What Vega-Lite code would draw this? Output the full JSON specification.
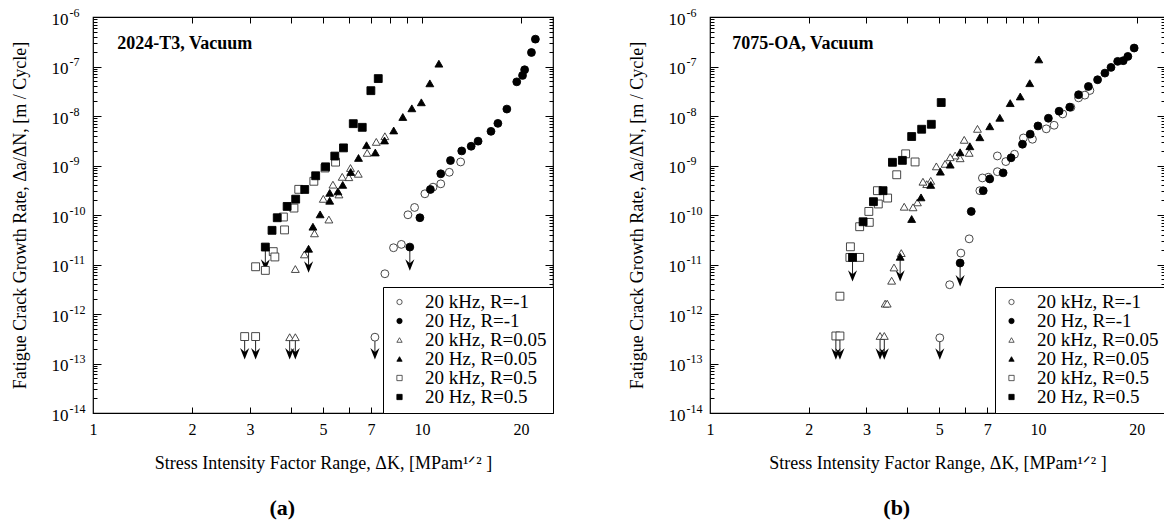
{
  "$schema": "https://vega.github.io/schema/vega-lite/v6.json",
  "padding": {"left": 10, "top": 5, "right": 0, "bottom": 0},
  "spacing": 72,
  "resolve": {"legend": {"shape": "independent", "fill": "independent", "stroke": "independent"}},
  "config": {
    "font": "Liberation Serif",
    "view": {"stroke": "black", "strokeWidth": 1.2},
    "axis": {"grid": false, "domain": false, "labelFont": "Liberation Serif", "titleFont": "Liberation Serif", "labelColor": "black", "titleColor": "black", "tickColor": "black", "titleFontWeight": "normal", "labelFontSize": 16, "titleFontSize": 18, "labelOverlap": false, "labelFlush": false},
    "legend": {"title": null, "orient": "bottom-right", "offset": 0, "fillColor": "white", "strokeColor": "black", "padding": 6, "symbolSize": 28, "symbolStrokeWidth": 0.8, "labelFontSize": 19, "labelFont": "Liberation Serif", "labelColor": "black", "rowPadding": 0, "clipHeight": 18, "symbolOffset": 1, "labelOffset": 16, "labelLimit": 300},
    "title": {"font": "Liberation Serif", "color": "black"}
  },
  "datasets": {
    "a": [
      {"K": 13.1, "da": 1.18e-9, "series": "20 kHz, R=-1"},
      {"K": 12.1, "da": 7.3e-10, "series": "20 kHz, R=-1"},
      {"K": 11.4, "da": 4.26e-10, "series": "20 kHz, R=-1"},
      {"K": 10.8, "da": 3.65e-10, "series": "20 kHz, R=-1"},
      {"K": 10.2, "da": 2.68e-10, "series": "20 kHz, R=-1"},
      {"K": 9.49, "da": 1.42e-10, "series": "20 kHz, R=-1"},
      {"K": 9.06, "da": 1.01e-10, "series": "20 kHz, R=-1"},
      {"K": 8.65, "da": 2.55e-11, "series": "20 kHz, R=-1"},
      {"K": 8.19, "da": 2.18e-11, "series": "20 kHz, R=-1"},
      {"K": 7.71, "da": 6.5e-12, "series": "20 kHz, R=-1"},
      {"K": 7.19, "da": 3.4e-13, "series": "20 kHz, R=-1"},
      {"K": 7.71, "da": 3.9e-9, "series": "20 kHz, R=0.05"},
      {"K": 7.26, "da": 3.0e-9, "series": "20 kHz, R=0.05"},
      {"K": 6.81, "da": 1.8e-9, "series": "20 kHz, R=0.05"},
      {"K": 6.4, "da": 6.8e-10, "series": "20 kHz, R=0.05"},
      {"K": 6.06, "da": 8.9e-10, "series": "20 kHz, R=0.05"},
      {"K": 5.99, "da": 5.8e-10, "series": "20 kHz, R=0.05"},
      {"K": 5.72, "da": 5.9e-10, "series": "20 kHz, R=0.05"},
      {"K": 5.36, "da": 4.1e-10, "series": "20 kHz, R=0.05"},
      {"K": 5.59, "da": 2.6e-10, "series": "20 kHz, R=0.05"},
      {"K": 5.01, "da": 2.12e-10, "series": "20 kHz, R=0.05"},
      {"K": 5.21, "da": 8.1e-11, "series": "20 kHz, R=0.05"},
      {"K": 4.71, "da": 4.26e-11, "series": "20 kHz, R=0.05"},
      {"K": 4.39, "da": 1.6e-11, "series": "20 kHz, R=0.05"},
      {"K": 4.12, "da": 8.1e-12, "series": "20 kHz, R=0.05"},
      {"K": 3.96, "da": 3.4e-13, "series": "20 kHz, R=0.05"},
      {"K": 4.12, "da": 3.4e-13, "series": "20 kHz, R=0.05"},
      {"K": 5.46, "da": 1.17e-9, "series": "20 kHz, R=0.5"},
      {"K": 5.07, "da": 8.9e-10, "series": "20 kHz, R=0.5"},
      {"K": 4.69, "da": 4.8e-10, "series": "20 kHz, R=0.5"},
      {"K": 4.22, "da": 3.3e-10, "series": "20 kHz, R=0.5"},
      {"K": 4.08, "da": 1.38e-10, "series": "20 kHz, R=0.5"},
      {"K": 3.79, "da": 9.1e-11, "series": "20 kHz, R=0.5"},
      {"K": 3.82, "da": 5.0e-11, "series": "20 kHz, R=0.5"},
      {"K": 3.53, "da": 1.82e-11, "series": "20 kHz, R=0.5"},
      {"K": 3.57, "da": 1.42e-11, "series": "20 kHz, R=0.5"},
      {"K": 3.12, "da": 9.0e-12, "series": "20 kHz, R=0.5"},
      {"K": 3.34, "da": 7.6e-12, "series": "20 kHz, R=0.5"},
      {"K": 2.89, "da": 3.5e-13, "series": "20 kHz, R=0.5"},
      {"K": 3.12, "da": 3.5e-13, "series": "20 kHz, R=0.5"},
      {"K": 22.1, "da": 3.57e-7, "series": "20 Hz, R=-1"},
      {"K": 21.5, "da": 1.92e-7, "series": "20 Hz, R=-1"},
      {"K": 20.5, "da": 8.6e-8, "series": "20 Hz, R=-1"},
      {"K": 20.2, "da": 6.6e-8, "series": "20 Hz, R=-1"},
      {"K": 19.4, "da": 4.9e-8, "series": "20 Hz, R=-1"},
      {"K": 18.1, "da": 1.38e-8, "series": "20 Hz, R=-1"},
      {"K": 17.0, "da": 7.1e-9, "series": "20 Hz, R=-1"},
      {"K": 16.2, "da": 4.9e-9, "series": "20 Hz, R=-1"},
      {"K": 14.8, "da": 3.1e-9, "series": "20 Hz, R=-1"},
      {"K": 14.1, "da": 2.45e-9, "series": "20 Hz, R=-1"},
      {"K": 13.2, "da": 1.97e-9, "series": "20 Hz, R=-1"},
      {"K": 12.2, "da": 1.26e-9, "series": "20 Hz, R=-1"},
      {"K": 11.4, "da": 6.8e-10, "series": "20 Hz, R=-1"},
      {"K": 10.6, "da": 3.28e-10, "series": "20 Hz, R=-1"},
      {"K": 9.85, "da": 8.8e-11, "series": "20 Hz, R=-1"},
      {"K": 9.18, "da": 2.25e-11, "series": "20 Hz, R=-1"},
      {"K": 11.25, "da": 1.14e-7, "series": "20 Hz, R=0.05"},
      {"K": 10.56, "da": 4.57e-8, "series": "20 Hz, R=0.05"},
      {"K": 9.95, "da": 1.89e-8, "series": "20 Hz, R=0.05"},
      {"K": 9.31, "da": 1.43e-8, "series": "20 Hz, R=0.05"},
      {"K": 8.74, "da": 9.55e-9, "series": "20 Hz, R=0.05"},
      {"K": 8.2, "da": 5.1e-9, "series": "20 Hz, R=0.05"},
      {"K": 7.69, "da": 3.2e-9, "series": "20 Hz, R=0.05"},
      {"K": 7.21, "da": 1.83e-9, "series": "20 Hz, R=0.05"},
      {"K": 6.78, "da": 2.57e-9, "series": "20 Hz, R=0.05"},
      {"K": 6.41, "da": 1.42e-9, "series": "20 Hz, R=0.05"},
      {"K": 6.07, "da": 7.4e-10, "series": "20 Hz, R=0.05"},
      {"K": 5.74, "da": 4.06e-10, "series": "20 Hz, R=0.05"},
      {"K": 5.55, "da": 3.0e-10, "series": "20 Hz, R=0.05"},
      {"K": 5.24, "da": 2.8e-10, "series": "20 Hz, R=0.05"},
      {"K": 5.24, "da": 1.94e-10, "series": "20 Hz, R=0.05"},
      {"K": 4.9, "da": 1.03e-10, "series": "20 Hz, R=0.05"},
      {"K": 4.66, "da": 5.8e-11, "series": "20 Hz, R=0.05"},
      {"K": 4.52, "da": 2.08e-11, "series": "20 Hz, R=0.05"},
      {"K": 7.36, "da": 5.7e-8, "series": "20 Hz, R=0.5"},
      {"K": 6.99, "da": 3.25e-8, "series": "20 Hz, R=0.5"},
      {"K": 6.18, "da": 7.0e-9, "series": "20 Hz, R=0.5"},
      {"K": 6.58, "da": 5.9e-9, "series": "20 Hz, R=0.5"},
      {"K": 5.77, "da": 2.27e-9, "series": "20 Hz, R=0.5"},
      {"K": 5.43, "da": 1.55e-9, "series": "20 Hz, R=0.5"},
      {"K": 5.09, "da": 9.4e-10, "series": "20 Hz, R=0.5"},
      {"K": 4.75, "da": 6.2e-10, "series": "20 Hz, R=0.5"},
      {"K": 4.4, "da": 3.28e-10, "series": "20 Hz, R=0.5"},
      {"K": 4.13, "da": 2.09e-10, "series": "20 Hz, R=0.5"},
      {"K": 3.89, "da": 1.49e-10, "series": "20 Hz, R=0.5"},
      {"K": 3.63, "da": 8.8e-11, "series": "20 Hz, R=0.5"},
      {"K": 3.5, "da": 4.9e-11, "series": "20 Hz, R=0.5"},
      {"K": 3.34, "da": 2.25e-11, "series": "20 Hz, R=0.5"}
    ],
    "aArrows": [
      {"K": 3.34, "da": 2.25e-11, "daEnd": 9.8e-12},
      {"K": 4.52, "da": 2.08e-11, "daEnd": 8.9e-12},
      {"K": 9.18, "da": 2.25e-11, "daEnd": 9.8e-12},
      {"K": 7.19, "da": 3.4e-13, "daEnd": 1.57e-13},
      {"K": 3.96, "da": 3.4e-13, "daEnd": 1.57e-13},
      {"K": 4.12, "da": 3.4e-13, "daEnd": 1.57e-13},
      {"K": 2.89, "da": 3.5e-13, "daEnd": 1.57e-13},
      {"K": 3.12, "da": 3.5e-13, "daEnd": 1.57e-13}
    ],
    "b": [
      {"K": 14.4, "da": 3.28e-8, "series": "20 kHz, R=-1"},
      {"K": 13.9, "da": 2.64e-8, "series": "20 kHz, R=-1"},
      {"K": 13.3, "da": 2.33e-8, "series": "20 kHz, R=-1"},
      {"K": 12.6, "da": 1.5e-8, "series": "20 kHz, R=-1"},
      {"K": 11.9, "da": 1.1e-8, "series": "20 kHz, R=-1"},
      {"K": 11.2, "da": 6.5e-9, "series": "20 kHz, R=-1"},
      {"K": 10.6, "da": 5.5e-9, "series": "20 kHz, R=-1"},
      {"K": 9.62, "da": 3.39e-9, "series": "20 kHz, R=-1"},
      {"K": 9.03, "da": 3.6e-9, "series": "20 kHz, R=-1"},
      {"K": 8.48, "da": 1.69e-9, "series": "20 kHz, R=-1"},
      {"K": 7.98, "da": 1.2e-9, "series": "20 kHz, R=-1"},
      {"K": 7.52, "da": 1.56e-9, "series": "20 kHz, R=-1"},
      {"K": 7.52, "da": 7.5e-10, "series": "20 kHz, R=-1"},
      {"K": 7.06, "da": 5.8e-10, "series": "20 kHz, R=-1"},
      {"K": 6.77, "da": 5.6e-10, "series": "20 kHz, R=-1"},
      {"K": 6.65, "da": 3.1e-10, "series": "20 kHz, R=-1"},
      {"K": 6.17, "da": 3.3e-11, "series": "20 kHz, R=-1"},
      {"K": 5.82, "da": 1.7e-11, "series": "20 kHz, R=-1"},
      {"K": 5.38, "da": 3.9e-12, "series": "20 kHz, R=-1"},
      {"K": 5.02, "da": 3.3e-13, "series": "20 kHz, R=-1"},
      {"K": 6.54, "da": 5.5e-9, "series": "20 kHz, R=0.05"},
      {"K": 5.96, "da": 3.3e-9, "series": "20 kHz, R=0.05"},
      {"K": 6.17, "da": 1.8e-9, "series": "20 kHz, R=0.05"},
      {"K": 5.79, "da": 1.4e-9, "series": "20 kHz, R=0.05"},
      {"K": 5.59, "da": 1.59e-9, "series": "20 kHz, R=0.05"},
      {"K": 5.4, "da": 1.47e-9, "series": "20 kHz, R=0.05"},
      {"K": 5.21, "da": 1.08e-9, "series": "20 kHz, R=0.05"},
      {"K": 4.9, "da": 9.6e-10, "series": "20 kHz, R=0.05"},
      {"K": 4.71, "da": 4.9e-10, "series": "20 kHz, R=0.05"},
      {"K": 4.58, "da": 4.2e-10, "series": "20 kHz, R=0.05"},
      {"K": 4.46, "da": 4.7e-10, "series": "20 kHz, R=0.05"},
      {"K": 4.29, "da": 1.8e-10, "series": "20 kHz, R=0.05"},
      {"K": 4.16, "da": 1.43e-10, "series": "20 kHz, R=0.05"},
      {"K": 3.91, "da": 1.47e-10, "series": "20 kHz, R=0.05"},
      {"K": 3.83, "da": 1.7e-11, "series": "20 kHz, R=0.05"},
      {"K": 3.64, "da": 8.7e-12, "series": "20 kHz, R=0.05"},
      {"K": 3.58, "da": 4.7e-12, "series": "20 kHz, R=0.05"},
      {"K": 3.42, "da": 1.62e-12, "series": "20 kHz, R=0.05"},
      {"K": 3.47, "da": 1.62e-12, "series": "20 kHz, R=0.05"},
      {"K": 3.3, "da": 3.6e-13, "series": "20 kHz, R=0.05"},
      {"K": 3.4, "da": 3.6e-13, "series": "20 kHz, R=0.05"},
      {"K": 3.95, "da": 1.72e-9, "series": "20 kHz, R=0.5"},
      {"K": 4.22, "da": 1.18e-9, "series": "20 kHz, R=0.5"},
      {"K": 3.71, "da": 6.5e-10, "series": "20 kHz, R=0.5"},
      {"K": 3.24, "da": 3.1e-10, "series": "20 kHz, R=0.5"},
      {"K": 3.48, "da": 2.2e-10, "series": "20 kHz, R=0.5"},
      {"K": 3.26, "da": 1.67e-10, "series": "20 kHz, R=0.5"},
      {"K": 3.05, "da": 1.18e-10, "series": "20 kHz, R=0.5"},
      {"K": 3.06, "da": 7.1e-11, "series": "20 kHz, R=0.5"},
      {"K": 2.86, "da": 5.8e-11, "series": "20 kHz, R=0.5"},
      {"K": 2.68, "da": 2.28e-11, "series": "20 kHz, R=0.5"},
      {"K": 2.67, "da": 1.39e-11, "series": "20 kHz, R=0.5"},
      {"K": 2.86, "da": 1.39e-11, "series": "20 kHz, R=0.5"},
      {"K": 2.49, "da": 2.29e-12, "series": "20 kHz, R=0.5"},
      {"K": 2.42, "da": 3.6e-13, "series": "20 kHz, R=0.5"},
      {"K": 2.49, "da": 3.6e-13, "series": "20 kHz, R=0.5"},
      {"K": 19.65, "da": 2.36e-7, "series": "20 Hz, R=-1"},
      {"K": 18.8, "da": 1.6e-7, "series": "20 Hz, R=-1"},
      {"K": 18.2, "da": 1.31e-7, "series": "20 Hz, R=-1"},
      {"K": 17.5, "da": 1.27e-7, "series": "20 Hz, R=-1"},
      {"K": 16.7, "da": 9.6e-8, "series": "20 Hz, R=-1"},
      {"K": 16.0, "da": 7.35e-8, "series": "20 Hz, R=-1"},
      {"K": 15.2, "da": 5.4e-8, "series": "20 Hz, R=-1"},
      {"K": 14.25, "da": 3.95e-8, "series": "20 Hz, R=-1"},
      {"K": 13.3, "da": 2.69e-8, "series": "20 Hz, R=-1"},
      {"K": 12.5, "da": 1.51e-8, "series": "20 Hz, R=-1"},
      {"K": 11.6, "da": 1.25e-8, "series": "20 Hz, R=-1"},
      {"K": 10.76, "da": 9.0e-9, "series": "20 Hz, R=-1"},
      {"K": 10.0, "da": 6.3e-9, "series": "20 Hz, R=-1"},
      {"K": 9.47, "da": 4.3e-9, "series": "20 Hz, R=-1"},
      {"K": 8.97, "da": 2.69e-9, "series": "20 Hz, R=-1"},
      {"K": 8.28, "da": 1.43e-9, "series": "20 Hz, R=-1"},
      {"K": 7.83, "da": 7.1e-10, "series": "20 Hz, R=-1"},
      {"K": 7.13, "da": 5.35e-10, "series": "20 Hz, R=-1"},
      {"K": 6.81, "da": 3.1e-10, "series": "20 Hz, R=-1"},
      {"K": 6.26, "da": 1.18e-10, "series": "20 Hz, R=-1"},
      {"K": 5.79, "da": 1.07e-11, "series": "20 Hz, R=-1"},
      {"K": 10.06, "da": 1.39e-7, "series": "20 Hz, R=0.05"},
      {"K": 9.44, "da": 4.6e-8, "series": "20 Hz, R=0.05"},
      {"K": 8.83, "da": 2.48e-8, "series": "20 Hz, R=0.05"},
      {"K": 8.23, "da": 1.82e-8, "series": "20 Hz, R=0.05"},
      {"K": 7.65, "da": 9.2e-9, "series": "20 Hz, R=0.05"},
      {"K": 7.13, "da": 6.2e-9, "series": "20 Hz, R=0.05"},
      {"K": 6.65, "da": 3.72e-9, "series": "20 Hz, R=0.05"},
      {"K": 6.2, "da": 2.45e-9, "series": "20 Hz, R=0.05"},
      {"K": 5.79, "da": 1.85e-9, "series": "20 Hz, R=0.05"},
      {"K": 5.4, "da": 1.04e-9, "series": "20 Hz, R=0.05"},
      {"K": 5.04, "da": 7.5e-10, "series": "20 Hz, R=0.05"},
      {"K": 4.71, "da": 4.05e-10, "series": "20 Hz, R=0.05"},
      {"K": 4.4, "da": 2.27e-10, "series": "20 Hz, R=0.05"},
      {"K": 4.12, "da": 8.3e-11, "series": "20 Hz, R=0.05"},
      {"K": 3.8, "da": 1.43e-11, "series": "20 Hz, R=0.05"},
      {"K": 5.07, "da": 1.87e-8, "series": "20 Hz, R=0.5"},
      {"K": 4.73, "da": 6.8e-9, "series": "20 Hz, R=0.5"},
      {"K": 4.42, "da": 5.4e-9, "series": "20 Hz, R=0.5"},
      {"K": 4.12, "da": 3.85e-9, "series": "20 Hz, R=0.5"},
      {"K": 3.86, "da": 1.27e-9, "series": "20 Hz, R=0.5"},
      {"K": 3.6, "da": 1.16e-9, "series": "20 Hz, R=0.5"},
      {"K": 3.37, "da": 3.1e-10, "series": "20 Hz, R=0.5"},
      {"K": 3.15, "da": 1.86e-10, "series": "20 Hz, R=0.5"},
      {"K": 2.93, "da": 7.3e-11, "series": "20 Hz, R=0.5"},
      {"K": 2.72, "da": 1.39e-11, "series": "20 Hz, R=0.5"}
    ],
    "bArrows": [
      {"K": 5.79, "da": 1.07e-11, "daEnd": 4.7e-12},
      {"K": 3.8, "da": 1.43e-11, "daEnd": 5.9e-12},
      {"K": 2.72, "da": 1.39e-11, "daEnd": 5.9e-12},
      {"K": 5.02, "da": 3.3e-13, "daEnd": 1.56e-13},
      {"K": 3.3, "da": 3.6e-13, "daEnd": 1.56e-13},
      {"K": 3.4, "da": 3.6e-13, "daEnd": 1.56e-13},
      {"K": 2.42, "da": 3.6e-13, "daEnd": 1.56e-13},
      {"K": 2.49, "da": 3.6e-13, "daEnd": 1.56e-13}
    ]
  },
  "hconcat": [
    {
      "width": 460,
      "height": 396,
      "title": {"text": "(a)", "orient": "bottom", "frame": "bounds", "anchor": "middle", "fontSize": 22, "fontWeight": "bold", "offset": 26},
      "resolve": {"axis": {"x": "independent", "y": "independent"}},
      "layer": [
        {
          "data": {"name": "a"},
          "mark": {"type": "point", "opacity": 0},
          "encoding": {
            "x": {"field": "K", "type": "quantitative", "scale": {"type": "log", "domain": [1, 25], "nice": false}, "axis": {"orient": "bottom", "values": [2, 3, 4, 5, 6, 7, 8, 9, 10, 20], "labels": false, "tickSize": -6, "tickWidth": 1, "title": null}},
            "y": {"field": "da", "type": "quantitative", "scale": {"type": "log", "domain": [1e-14, 1e-6], "nice": false}, "axis": {"orient": "left", "values": [1e-14, 1e-13, 1e-12, 1e-11, 1e-10, 1e-9, 1e-8, 1e-7, 1e-6], "labels": false, "tickSize": -8, "tickWidth": 1, "title": null}}
          }
        },
        {
          "data": {"name": "a"},
          "mark": {"type": "point", "opacity": 0},
          "encoding": {
            "x": {"field": "K", "type": "quantitative", "scale": {"type": "log", "domain": [1, 25], "nice": false}, "axis": {"orient": "top", "values": [2, 3, 4, 5, 6, 7, 8, 9, 10, 20], "labels": false, "tickSize": -6, "tickWidth": 1, "title": null}},
            "y": {"field": "da", "type": "quantitative", "scale": {"type": "log", "domain": [1e-14, 1e-6], "nice": false}, "axis": {"orient": "right", "values": [1e-14, 1e-13, 1e-12, 1e-11, 1e-10, 1e-9, 1e-8, 1e-7, 1e-6], "labels": false, "tickSize": -8, "tickWidth": 1, "title": null}}
          }
        },
        {
          "data": {"name": "a"},
          "mark": {"type": "point", "opacity": 0},
          "encoding": {
            "x": {"field": "K", "type": "quantitative", "scale": {"type": "log", "domain": [1, 25], "nice": false}, "axis": null},
            "y": {"field": "da", "type": "quantitative", "scale": {"type": "log", "domain": [1e-14, 1e-6], "nice": false}, "axis": {"orient": "left", "values": [2e-14, 3e-14, 4e-14, 5e-14, 6e-14, 7e-14, 8e-14, 9e-14, 2e-13, 3e-13, 4e-13, 5e-13, 6e-13, 7e-13, 8e-13, 9e-13, 2e-12, 3e-12, 4e-12, 5e-12, 6e-12, 7e-12, 8e-12, 9e-12, 2e-11, 3e-11, 4e-11, 5e-11, 6e-11, 7e-11, 8e-11, 9e-11, 2e-10, 3e-10, 4e-10, 5e-10, 6e-10, 7e-10, 8e-10, 9e-10, 2e-9, 3e-9, 4e-9, 5e-9, 6e-9, 7e-9, 8e-9, 9e-9, 2e-8, 3e-8, 4e-8, 5e-8, 6e-8, 7e-8, 8e-8, 9e-8, 2e-7, 3e-7, 4e-7, 5e-7, 6e-7, 7e-7, 8e-7, 9e-7], "labels": false, "tickSize": -4, "tickWidth": 1, "title": null}}
          }
        },
        {
          "data": {"name": "a"},
          "mark": {"type": "point", "opacity": 0},
          "encoding": {
            "x": {"field": "K", "type": "quantitative", "scale": {"type": "log", "domain": [1, 25], "nice": false}, "axis": null},
            "y": {"field": "da", "type": "quantitative", "scale": {"type": "log", "domain": [1e-14, 1e-6], "nice": false}, "axis": {"orient": "right", "values": [2e-14, 3e-14, 4e-14, 5e-14, 6e-14, 7e-14, 8e-14, 9e-14, 2e-13, 3e-13, 4e-13, 5e-13, 6e-13, 7e-13, 8e-13, 9e-13, 2e-12, 3e-12, 4e-12, 5e-12, 6e-12, 7e-12, 8e-12, 9e-12, 2e-11, 3e-11, 4e-11, 5e-11, 6e-11, 7e-11, 8e-11, 9e-11, 2e-10, 3e-10, 4e-10, 5e-10, 6e-10, 7e-10, 8e-10, 9e-10, 2e-9, 3e-9, 4e-9, 5e-9, 6e-9, 7e-9, 8e-9, 9e-9, 2e-8, 3e-8, 4e-8, 5e-8, 6e-8, 7e-8, 8e-8, 9e-8, 2e-7, 3e-7, 4e-7, 5e-7, 6e-7, 7e-7, 8e-7, 9e-7], "labels": false, "tickSize": -4, "tickWidth": 1, "title": null}}
          }
        },
        {
          "data": {"name": "a"},
          "mark": {"type": "point", "opacity": 0},
          "encoding": {
            "x": {"field": "K", "type": "quantitative", "scale": {"type": "log", "domain": [1, 25], "nice": false}, "axis": null},
            "y": {"field": "da", "type": "quantitative", "scale": {"type": "log", "domain": [1e-14, 1e-6], "nice": false}, "axis": {"orient": "left", "values": [1e-14, 1e-13, 1e-12, 1e-11, 1e-10, 1e-9, 1e-8, 1e-7, 1e-6], "labelExpr": "'-' + round(-log(datum.value)/LN10)", "labelAlign": "left", "labelFontSize": 12, "labelPadding": 24, "labelOffset": -5, "ticks": false, "title": null}}
          }
        },
        {
          "data": {"name": "aArrows"},
          "mark": {"type": "rule", "color": "#222", "strokeWidth": 1},
          "encoding": {
            "x": {"field": "K", "type": "quantitative", "scale": {"type": "log", "domain": [1, 25], "nice": false}, "axis": null},
            "y": {"field": "da", "type": "quantitative", "scale": {"type": "log", "domain": [1e-14, 1e-6], "nice": false}, "axis": null},
            "y2": {"field": "daEnd"}
          }
        },
        {
          "data": {"name": "aArrows"},
          "mark": {"type": "point", "shape": "M-0.8,-1L0,1L0.8,-1L0,-0.3Z", "filled": true, "color": "black", "size": 130, "opacity": 1},
          "encoding": {
            "x": {"field": "K", "type": "quantitative", "scale": {"type": "log", "domain": [1, 25], "nice": false}, "axis": null},
            "y": {"field": "daEnd", "type": "quantitative", "scale": {"type": "log", "domain": [1e-14, 1e-6], "nice": false}, "axis": null}
          }
        },
        {
          "data": {"name": "a"},
          "mark": {"type": "point", "filled": true, "size": 62, "strokeWidth": 0.9, "opacity": 1},
          "encoding": {
            "x": {"field": "K", "type": "quantitative", "scale": {"type": "log", "domain": [1, 25], "nice": false}, "axis": {"orient": "bottom", "values": [1, 2, 3, 5, 7, 10, 20], "format": "d", "ticks": false, "labelPadding": 8, "title": "Stress Intensity Factor Range, ΔK,  [MPam¹ᐟ² ]", "titlePadding": 17}},
            "y": {"field": "da", "type": "quantitative", "scale": {"type": "log", "domain": [1e-14, 1e-6], "nice": false}, "axis": {"orient": "left", "values": [1e-14, 1e-13, 1e-12, 1e-11, 1e-10, 1e-9, 1e-8, 1e-7, 1e-6], "labelExpr": "'10'", "labelFontSize": 17, "labelOffset": 2, "ticks": false, "labelPadding": 25, "title": "Fatigue Crack Growth Rate,  Δa/ΔN, [m / Cycle]", "titlePadding": 22}},
            "shape": {"field": "series", "type": "nominal", "scale": {"domain": ["20 kHz, R=-1", "20 Hz, R=-1", "20 kHz, R=0.05", "20 Hz, R=0.05", "20 kHz, R=0.5", "20 Hz, R=0.5"], "range": ["circle", "circle", "triangle-up", "triangle-up", "square", "square"]}},
            "fill": {"field": "series", "type": "nominal", "scale": {"domain": ["20 kHz, R=-1", "20 Hz, R=-1", "20 kHz, R=0.05", "20 Hz, R=0.05", "20 kHz, R=0.5", "20 Hz, R=0.5"], "range": ["white", "black", "white", "black", "white", "black"]}},
            "stroke": {"field": "series", "type": "nominal", "scale": {"domain": ["20 kHz, R=-1", "20 Hz, R=-1", "20 kHz, R=0.05", "20 Hz, R=0.05", "20 kHz, R=0.5", "20 Hz, R=0.5"], "range": ["#333", "black", "#333", "black", "#333", "black"]}}
          }
        },
        {
          "data": {"values": [{"label": "2024-T3, Vacuum"}]},
          "mark": {"type": "text", "align": "left", "baseline": "middle", "fontSize": 18, "fontWeight": "bold", "font": "Liberation Serif", "color": "black"},
          "encoding": {
            "x": {"datum": 1.185, "type": "quantitative", "scale": {"type": "log", "domain": [1, 25], "nice": false}, "axis": null},
            "y": {"datum": 2.8e-7, "type": "quantitative", "scale": {"type": "log", "domain": [1e-14, 1e-6], "nice": false}, "axis": null},
            "text": {"field": "label"}
          }
        }
      ]
    },
    {
      "width": 455,
      "height": 396,
      "title": {"text": "(b)", "orient": "bottom", "frame": "bounds", "anchor": "middle", "fontSize": 22, "fontWeight": "bold", "offset": 26},
      "resolve": {"axis": {"x": "independent", "y": "independent"}},
      "layer": [
        {
          "data": {"name": "b"},
          "mark": {"type": "point", "opacity": 0},
          "encoding": {
            "x": {"field": "K", "type": "quantitative", "scale": {"type": "log", "domain": [1, 24.4], "nice": false}, "axis": {"orient": "bottom", "values": [2, 3, 4, 5, 6, 7, 8, 9, 10, 20], "labels": false, "tickSize": -6, "tickWidth": 1, "title": null}},
            "y": {"field": "da", "type": "quantitative", "scale": {"type": "log", "domain": [1e-14, 1e-6], "nice": false}, "axis": {"orient": "left", "values": [1e-14, 1e-13, 1e-12, 1e-11, 1e-10, 1e-9, 1e-8, 1e-7, 1e-6], "labels": false, "tickSize": -8, "tickWidth": 1, "title": null}}
          }
        },
        {
          "data": {"name": "b"},
          "mark": {"type": "point", "opacity": 0},
          "encoding": {
            "x": {"field": "K", "type": "quantitative", "scale": {"type": "log", "domain": [1, 24.4], "nice": false}, "axis": {"orient": "top", "values": [2, 3, 4, 5, 6, 7, 8, 9, 10, 20], "labels": false, "tickSize": -6, "tickWidth": 1, "title": null}},
            "y": {"field": "da", "type": "quantitative", "scale": {"type": "log", "domain": [1e-14, 1e-6], "nice": false}, "axis": {"orient": "right", "values": [1e-14, 1e-13, 1e-12, 1e-11, 1e-10, 1e-9, 1e-8, 1e-7, 1e-6], "labels": false, "tickSize": -8, "tickWidth": 1, "title": null}}
          }
        },
        {
          "data": {"name": "b"},
          "mark": {"type": "point", "opacity": 0},
          "encoding": {
            "x": {"field": "K", "type": "quantitative", "scale": {"type": "log", "domain": [1, 24.4], "nice": false}, "axis": null},
            "y": {"field": "da", "type": "quantitative", "scale": {"type": "log", "domain": [1e-14, 1e-6], "nice": false}, "axis": {"orient": "left", "values": [2e-14, 3e-14, 4e-14, 5e-14, 6e-14, 7e-14, 8e-14, 9e-14, 2e-13, 3e-13, 4e-13, 5e-13, 6e-13, 7e-13, 8e-13, 9e-13, 2e-12, 3e-12, 4e-12, 5e-12, 6e-12, 7e-12, 8e-12, 9e-12, 2e-11, 3e-11, 4e-11, 5e-11, 6e-11, 7e-11, 8e-11, 9e-11, 2e-10, 3e-10, 4e-10, 5e-10, 6e-10, 7e-10, 8e-10, 9e-10, 2e-9, 3e-9, 4e-9, 5e-9, 6e-9, 7e-9, 8e-9, 9e-9, 2e-8, 3e-8, 4e-8, 5e-8, 6e-8, 7e-8, 8e-8, 9e-8, 2e-7, 3e-7, 4e-7, 5e-7, 6e-7, 7e-7, 8e-7, 9e-7], "labels": false, "tickSize": -4, "tickWidth": 1, "title": null}}
          }
        },
        {
          "data": {"name": "b"},
          "mark": {"type": "point", "opacity": 0},
          "encoding": {
            "x": {"field": "K", "type": "quantitative", "scale": {"type": "log", "domain": [1, 24.4], "nice": false}, "axis": null},
            "y": {"field": "da", "type": "quantitative", "scale": {"type": "log", "domain": [1e-14, 1e-6], "nice": false}, "axis": {"orient": "right", "values": [2e-14, 3e-14, 4e-14, 5e-14, 6e-14, 7e-14, 8e-14, 9e-14, 2e-13, 3e-13, 4e-13, 5e-13, 6e-13, 7e-13, 8e-13, 9e-13, 2e-12, 3e-12, 4e-12, 5e-12, 6e-12, 7e-12, 8e-12, 9e-12, 2e-11, 3e-11, 4e-11, 5e-11, 6e-11, 7e-11, 8e-11, 9e-11, 2e-10, 3e-10, 4e-10, 5e-10, 6e-10, 7e-10, 8e-10, 9e-10, 2e-9, 3e-9, 4e-9, 5e-9, 6e-9, 7e-9, 8e-9, 9e-9, 2e-8, 3e-8, 4e-8, 5e-8, 6e-8, 7e-8, 8e-8, 9e-8, 2e-7, 3e-7, 4e-7, 5e-7, 6e-7, 7e-7, 8e-7, 9e-7], "labels": false, "tickSize": -4, "tickWidth": 1, "title": null}}
          }
        },
        {
          "data": {"name": "b"},
          "mark": {"type": "point", "opacity": 0},
          "encoding": {
            "x": {"field": "K", "type": "quantitative", "scale": {"type": "log", "domain": [1, 24.4], "nice": false}, "axis": null},
            "y": {"field": "da", "type": "quantitative", "scale": {"type": "log", "domain": [1e-14, 1e-6], "nice": false}, "axis": {"orient": "left", "values": [1e-14, 1e-13, 1e-12, 1e-11, 1e-10, 1e-9, 1e-8, 1e-7, 1e-6], "labelExpr": "'-' + round(-log(datum.value)/LN10)", "labelAlign": "left", "labelFontSize": 12, "labelPadding": 24, "labelOffset": -5, "ticks": false, "title": null}}
          }
        },
        {
          "data": {"name": "bArrows"},
          "mark": {"type": "rule", "color": "#222", "strokeWidth": 1},
          "encoding": {
            "x": {"field": "K", "type": "quantitative", "scale": {"type": "log", "domain": [1, 24.4], "nice": false}, "axis": null},
            "y": {"field": "da", "type": "quantitative", "scale": {"type": "log", "domain": [1e-14, 1e-6], "nice": false}, "axis": null},
            "y2": {"field": "daEnd"}
          }
        },
        {
          "data": {"name": "bArrows"},
          "mark": {"type": "point", "shape": "M-0.8,-1L0,1L0.8,-1L0,-0.3Z", "filled": true, "color": "black", "size": 130, "opacity": 1},
          "encoding": {
            "x": {"field": "K", "type": "quantitative", "scale": {"type": "log", "domain": [1, 24.4], "nice": false}, "axis": null},
            "y": {"field": "daEnd", "type": "quantitative", "scale": {"type": "log", "domain": [1e-14, 1e-6], "nice": false}, "axis": null}
          }
        },
        {
          "data": {"name": "b"},
          "mark": {"type": "point", "filled": true, "size": 62, "strokeWidth": 0.9, "opacity": 1},
          "encoding": {
            "x": {"field": "K", "type": "quantitative", "scale": {"type": "log", "domain": [1, 24.4], "nice": false}, "axis": {"orient": "bottom", "values": [1, 2, 3, 5, 7, 10, 20], "format": "d", "ticks": false, "labelPadding": 8, "title": "Stress Intensity Factor Range, ΔK,  [MPam¹ᐟ² ]", "titlePadding": 17}},
            "y": {"field": "da", "type": "quantitative", "scale": {"type": "log", "domain": [1e-14, 1e-6], "nice": false}, "axis": {"orient": "left", "values": [1e-14, 1e-13, 1e-12, 1e-11, 1e-10, 1e-9, 1e-8, 1e-7, 1e-6], "labelExpr": "'10'", "labelFontSize": 17, "labelOffset": 2, "ticks": false, "labelPadding": 25, "title": "Fatigue Crack Growth Rate,  Δa/ΔN, [m / Cycle]", "titlePadding": 22}},
            "shape": {"field": "series", "type": "nominal", "scale": {"domain": ["20 kHz, R=-1", "20 Hz, R=-1", "20 kHz, R=0.05", "20 Hz, R=0.05", "20 kHz, R=0.5", "20 Hz, R=0.5"], "range": ["circle", "circle", "triangle-up", "triangle-up", "square", "square"]}},
            "fill": {"field": "series", "type": "nominal", "scale": {"domain": ["20 kHz, R=-1", "20 Hz, R=-1", "20 kHz, R=0.05", "20 Hz, R=0.05", "20 kHz, R=0.5", "20 Hz, R=0.5"], "range": ["white", "black", "white", "black", "white", "black"]}},
            "stroke": {"field": "series", "type": "nominal", "scale": {"domain": ["20 kHz, R=-1", "20 Hz, R=-1", "20 kHz, R=0.05", "20 Hz, R=0.05", "20 kHz, R=0.5", "20 Hz, R=0.5"], "range": ["#333", "black", "#333", "black", "#333", "black"]}}
          }
        },
        {
          "data": {"values": [{"label": "7075-OA, Vacuum"}]},
          "mark": {"type": "text", "align": "left", "baseline": "middle", "fontSize": 18, "fontWeight": "bold", "font": "Liberation Serif", "color": "black"},
          "encoding": {
            "x": {"datum": 1.17, "type": "quantitative", "scale": {"type": "log", "domain": [1, 24.4], "nice": false}, "axis": null},
            "y": {"datum": 2.8e-7, "type": "quantitative", "scale": {"type": "log", "domain": [1e-14, 1e-6], "nice": false}, "axis": null},
            "text": {"field": "label"}
          }
        }
      ]
    }
  ]
}
